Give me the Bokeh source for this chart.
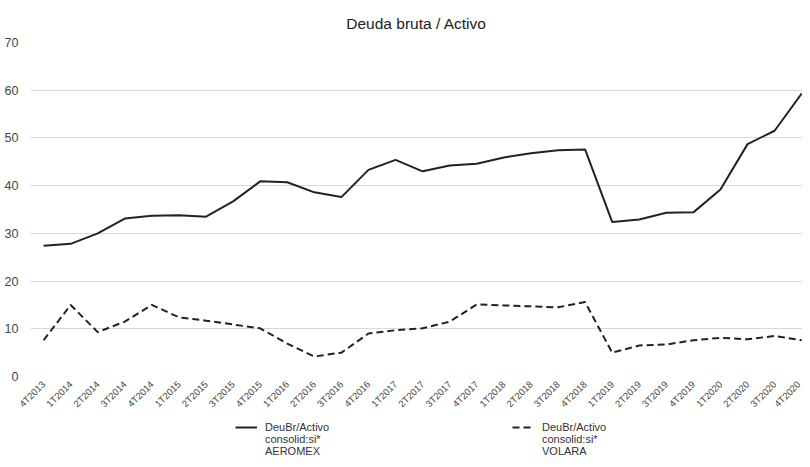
import math
from bokeh.plotting import figure
from bokeh.layouts import column
from bokeh.models import Range1d, FixedTicker, Legend, LegendItem
from bokeh.embed import file_html
from bokeh.resources import INLINE

quarters = ["4T2013", "1T2014", "2T2014", "3T2014", "4T2014", "1T2015", "2T2015", "3T2015",
            "4T2015", "1T2016", "2T2016", "3T2016", "4T2016", "1T2017", "2T2017", "3T2017",
            "4T2017", "1T2018", "2T2018", "3T2018", "4T2018", "1T2019", "2T2019", "3T2019",
            "4T2019", "1T2020", "2T2020", "3T2020", "4T2020"]

aeromex = [27.4, 27.8, 30.0, 33.1, 33.7, 33.8, 33.5, 36.7, 40.9, 40.7, 38.6, 37.6, 43.3, 45.4,
           43.0, 44.2, 44.6, 45.9, 46.8, 47.4, 47.6, 32.4, 32.9, 34.3, 34.4, 39.2, 48.7, 51.5, 59.3]

volara = [7.6, 15.0, 9.3, 11.5, 15.0, 12.4, 11.7, 10.9, 10.1, 6.9, 4.2, 5.0, 9.0, 9.7,
          10.1, 11.5, 15.1, 14.9, 14.7, 14.5, 15.6, 5.0, 6.5, 6.7, 7.6, 8.1, 7.8, 8.5, 7.6]

# legend text, one list per printed line
legend_line1 = ["DeuBr/Activo", "DeuBr/Activo"]
legend_line2 = ["consolid:si*", "consolid:si*"]
legend_line3 = ["AEROMEX", "VOLARA"]
y_ticks = [0, 10, 20, 30, 40, 50, 60, 70]

xs = list(range(len(quarters)))
LINE_COLOR = "#222222"
DASH = "7 4"
W = 802

p = figure(width=W, height=416, output_backend="svg", toolbar_location=None,
           x_range=Range1d(-0.483, 28.03), y_range=Range1d(0, 70),
           title="Deuda bruta / Activo",
           min_border_left=30, min_border_right=0, min_border_top=42, min_border_bottom=0)

p.title.align = "center"
p.title.text_font = "Liberation Sans"
p.title.text_font_size = "15.5px"
p.title.text_font_style = "normal"
p.title.text_color = "#222222"
p.title.standoff = 21

p.outline_line_color = None
p.xgrid.grid_line_color = None
p.ygrid.grid_line_color = "#d9d9d9"
p.ygrid.grid_line_width = 1

p.yaxis.ticker = FixedTicker(ticks=y_ticks)
p.xaxis.ticker = FixedTicker(ticks=xs)
p.xaxis.major_label_overrides = {i: q for i, q in enumerate(quarters)}

for ax in (p.xaxis[0], p.yaxis[0]):
    ax.axis_line_color = None
    ax.major_tick_line_color = None
    ax.minor_tick_line_color = None
    ax.major_tick_out = 0
    ax.major_tick_in = 0
    ax.minor_tick_out = 0
    ax.minor_tick_in = 0
    ax.major_label_text_font = "Liberation Sans"
    ax.major_label_text_color = "#444444"

p.yaxis.major_label_text_font_size = "12.5px"
p.yaxis.major_label_standoff = 12
p.xaxis.major_label_text_font_size = "9.5px"
p.xaxis.major_label_orientation = math.pi / 4
p.xaxis.major_label_standoff = 6

p.line(xs, aeromex, line_color=LINE_COLOR, line_width=2)
p.line(xs, volara, line_color=LINE_COLOR, line_width=2, line_dash=DASH)

# legend-only figure below the chart (slightly overlapping the axis panel)
LG_H = 66
lg = figure(width=W, height=LG_H, output_backend="svg", toolbar_location=None,
            x_range=Range1d(0, 1), y_range=Range1d(0, 1),
            x_axis_location=None, y_axis_location=None,
            min_border_left=0, min_border_right=0, min_border_top=0, min_border_bottom=0)
lg.outline_line_color = None
lg.grid.grid_line_color = None
lg.background_fill_color = None
lg.border_fill_color = None
lg.margin = (-24, 0, 0, 0)
nan = float("nan")
d1 = lg.line([nan], [nan], line_color=LINE_COLOR, line_width=2)
d2 = lg.line([nan], [nan], line_color=LINE_COLOR, line_width=2, line_dash=DASH)
h1 = lg.line([nan], [nan], line_color=LINE_COLOR, line_alpha=0)
h2 = lg.line([nan], [nan], line_color=LINE_COLOR, line_alpha=0)

common = dict(orientation="horizontal", border_line_color=None, background_fill_alpha=0,
              spacing=172, padding=0, margin=0,
              label_text_font="Liberation Sans", label_text_font_size="11px",
              label_text_color="#333333", label_width=75,
              label_height=12, glyph_height=12,
              glyph_width=22, label_standoff=8)

for labels, (r_a, r_b), y_off in [(legend_line1, (d1, d2), 25),
                                   (legend_line2, (h1, h2), 13),
                                   (legend_line3, (h1, h2), 1)]:
    leg = Legend(items=[LegendItem(label=labels[0], renderers=[r_a]),
                        LegendItem(label=labels[1], renderers=[r_b])],
                 location=(205, y_off), **common)
    lg.add_layout(leg, "center")

layout = column(p, lg, spacing=0)
open("out.html", "w").write(file_html(layout, INLINE))
